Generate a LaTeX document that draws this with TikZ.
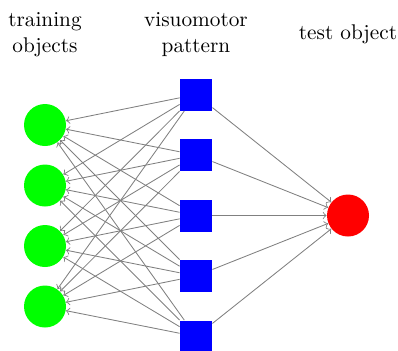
\documentclass[tikz,border=0pt]{standalone}
\begin{document}
\begin{tikzpicture}[x=0.47pt,y=-0.47pt,
  trainobj/.style={circle,fill=green,draw=none,minimum size=19.74pt,inner sep=0pt},
  pattern/.style={rectangle,fill=blue,draw=none,minimum size=15.04pt,inner sep=0pt},
  testobj/.style={circle,fill=red,draw=none,minimum size=19.74pt,inner sep=0pt},
  conn/.style={draw=gray,->},
  heading/.style={align=center,inner sep=0pt}]
\useasboundingbox (0,0) rectangle (398,350);
% training objects
\foreach \i/\y in {1/125,2/185.5,3/246,4/306.5}
  \node[trainobj] (T\i) at (45,\y) {};
% visuomotor patterns
\foreach \i/\y in {1/94.5,2/155,3/215.5,4/276,5/336.5}
  \node[pattern] (P\i) at (196,\y) {};
% test object
\node[testobj] (O) at (348,215.5) {};
% connections
\foreach \p in {1,...,5}{
  \foreach \t in {1,...,4}
    \draw[conn] (P\p) -- (T\t);
  \draw[conn] (P\p) -- (O);
}
% headings
\node[heading] (h1) at (45,34.5) {training\\objects};
\node[heading] (h2) at (196,34.5) {visuomotor\\pattern};
\node[heading] (h3) at (348,34.5) {test object};
\end{tikzpicture}
\end{document}
